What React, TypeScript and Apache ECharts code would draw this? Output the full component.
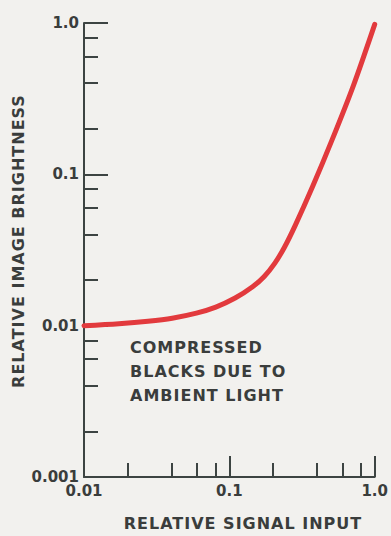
import React, { useEffect, useRef } from "react";
import * as echarts from "echarts";

// Curve (relative signal input -> relative image brightness)
const signalInput = [0.01, 0.01738, 0.02754, 0.04043, 0.05933, 0.0807, 0.1096, 0.1445, 0.1738, 0.2057, 0.2399, 0.284, 0.3745, 0.5088, 0.7134, 1.0];
const imageBrightness = [0.01, 0.01031, 0.0107, 0.0112, 0.0121, 0.01327, 0.01523, 0.01808, 0.02115, 0.0259, 0.03311, 0.046, 0.08331, 0.1688, 0.3861, 0.98];

const xTickValues = [0.01, 0.1, 1];
const xTickLabels = ["0.01", "0.1", "1.0"];
const yTickValues = [0.001, 0.01, 0.1, 1];
const yTickLabels = ["0.001", "0.01", "0.1", "1.0"];
const xMinorTicks = [0.02, 0.04, 0.06, 0.08, 0.2, 0.4, 0.6, 0.8];
const yMinorTicks = [0.002, 0.004, 0.006, 0.008, 0.02, 0.04, 0.06, 0.08, 0.2, 0.4, 0.6, 0.8];

const xTitle = "RELATIVE SIGNAL INPUT";
const yTitle = "RELATIVE IMAGE BRIGHTNESS";
const annotation = ["COMPRESSED", "BLACKS DUE TO", "AMBIENT LIGHT"];

const INK = "#3a3d3c";
const AXIS = "#3d4442";
const FONT = "'DejaVu Sans', sans-serif";

function labelFor(values: number[], labels: string[]) {
  return (v: number) => {
    let best = 0;
    let bd = Infinity;
    values.forEach((t, i) => {
      const d = Math.abs(Math.log10(v) - Math.log10(t));
      if (d < bd) { bd = d; best = i; }
    });
    return bd < 0.01 ? labels[best] : "";
  };
}

export default function App() {
  const ref = useRef<HTMLDivElement>(null);
  useEffect(() => {
    if (!ref.current) return;
    const chart = echarts.init(ref.current, null, { renderer: "svg" });
    const baseX = {
      type: "log" as const,
      logBase: 10,
      min: 0.01,
      max: 1,
      gridIndex: 0,
      splitLine: { show: false },
    };
    const baseY = {
      type: "log" as const,
      logBase: 10,
      min: 0.001,
      max: 1,
      gridIndex: 0,
      splitLine: { show: false },
    };
    chart.setOption({
      animation: false,
      backgroundColor: "#f2f1ee",
      grid: { left: 84, right: 7, top: 23, bottom: 59, containLabel: false },
      xAxis: [
        {
          ...baseX,
          axisLine: { show: true, lineStyle: { color: AXIS, width: 2 } },
          axisTick: { show: true, inside: true, length: 21, lineStyle: { color: AXIS, width: 2 } },
          axisLabel: {
            show: true,
            margin: 6,
            color: INK,
            fontFamily: FONT,
            fontWeight: "bold",
            fontSize: 15,
            formatter: labelFor(xTickValues, xTickLabels),
          },
        },
        {
          ...baseX,
          position: "bottom",
          axisLine: { show: false },
          axisLabel: { show: false },
          axisTick: {
            show: true,
            inside: true,
            length: 14,
            customValues: xMinorTicks,
            lineStyle: { color: AXIS, width: 2 },
          },
        },
      ],
      yAxis: [
        {
          ...baseY,
          axisLine: { show: true, lineStyle: { color: AXIS, width: 2 } },
          axisTick: { show: true, inside: true, length: 24, lineStyle: { color: AXIS, width: 2 } },
          axisLabel: {
            show: true,
            margin: 5,
            color: INK,
            fontFamily: FONT,
            fontWeight: "bold",
            fontSize: 15,
            formatter: labelFor(yTickValues, yTickLabels),
          },
        },
        {
          ...baseY,
          position: "left",
          offset: 0,
          axisLine: { show: false },
          axisLabel: { show: false },
          axisTick: {
            show: true,
            inside: true,
            length: 14,
            customValues: yMinorTicks,
            lineStyle: { color: AXIS, width: 2 },
          },
        },
      ],
      series: [
        {
          type: "line",
          xAxisIndex: 0,
          yAxisIndex: 0,
          data: signalInput.map((x, i) => [x, imageBrightness[i]]),
          smooth: 0.3,
          showSymbol: false,
          symbol: "none",
          lineStyle: { color: "#e23a3d", width: 5, cap: "round", join: "round" },
          z: 3,
        },
      ],
      graphic: [
        {
          type: "text",
          x: 18,
          y: 241,
          rotation: Math.PI / 2,
          style: {
            text: yTitle,
            fill: INK,
            font: `bold 16px ${FONT}`,
            align: "center",
            verticalAlign: "middle",
          },
        },
        {
          type: "text",
          x: 243,
          y: 523,
          style: {
            text: xTitle,
            fill: INK,
            font: `bold 16px ${FONT}`,
            align: "center",
            verticalAlign: "middle",
          },
        },
        {
          type: "text",
          x: 130,
          y: 335,
          style: {
            text: annotation.join("\n"),
            fill: INK,
            font: `bold 16px ${FONT}`,
            lineHeight: 24,
            align: "left",
            verticalAlign: "top",
          },
        },
      ],
    });
    return () => chart.dispose();
  }, []);
  return (
    <>
      <style>{`.chart-host text[style*="16px"] { letter-spacing: 1px; }`}</style>
      <div
        ref={ref}
        className="chart-host"
        style={{ position: "fixed", left: 0, top: 0, width: 391, height: 536 }}
      />
    </>
  );
}
